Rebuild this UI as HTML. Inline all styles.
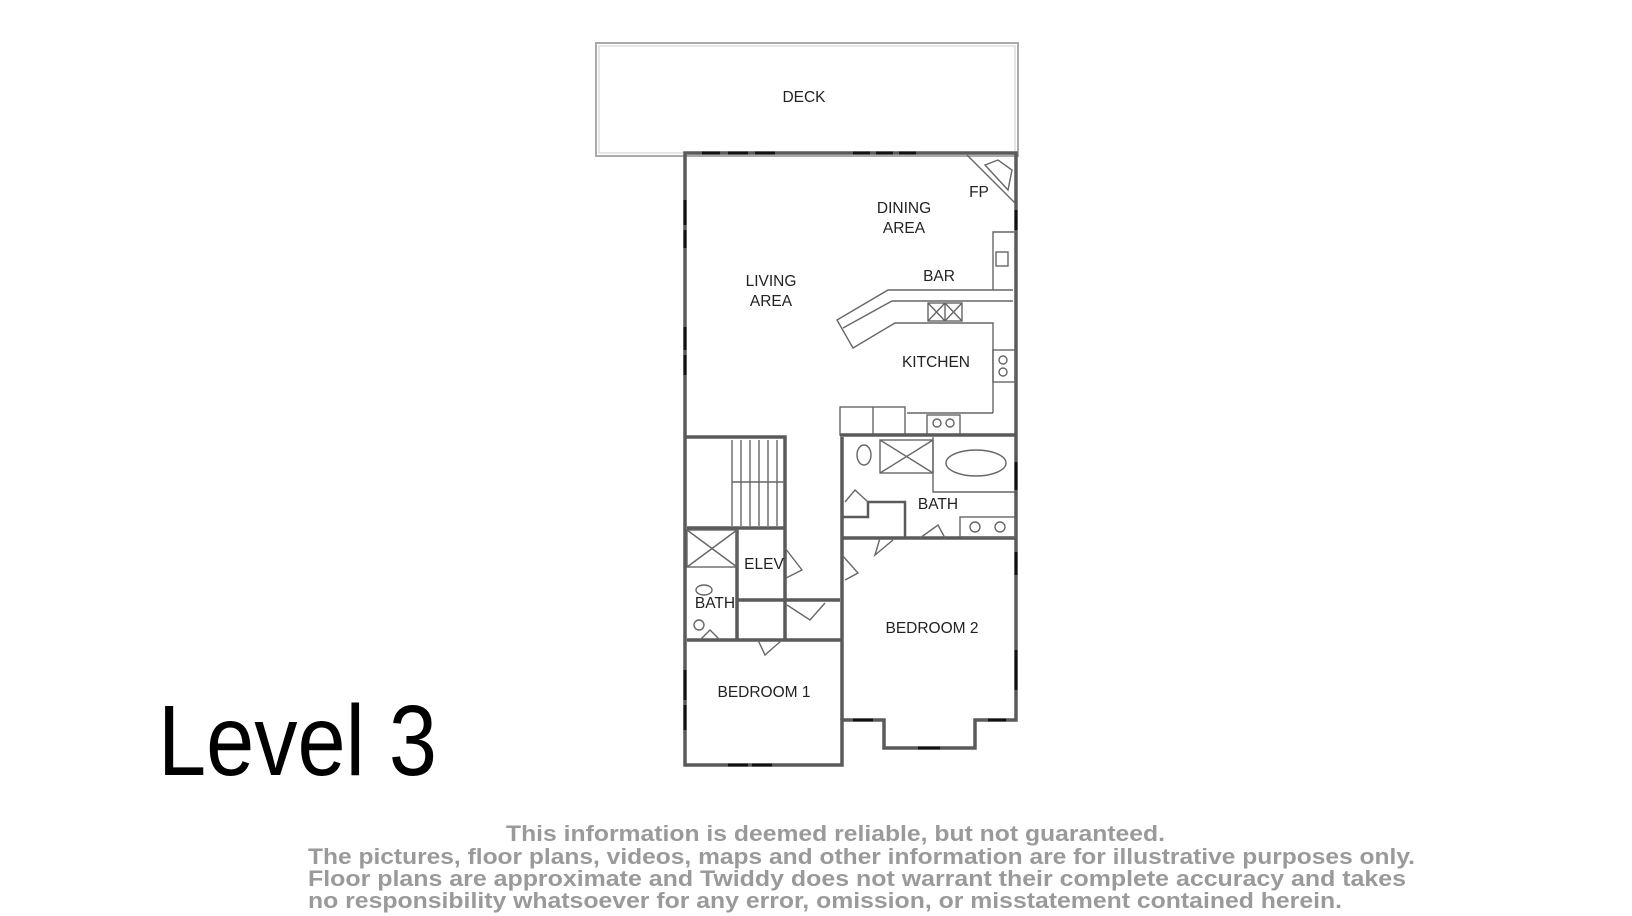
<!DOCTYPE html>
<html><head><meta charset="utf-8"><style>
html,body{margin:0;padding:0;background:#fff;}
svg{display:block;}
.w{stroke:#5a5a5a;stroke-width:3.5;fill:none;}
.t{stroke:#666;stroke-width:1.4;fill:none;}
.lb{font-family:"Liberation Sans",sans-serif;font-size:15.5px;fill:#222;text-anchor:middle;}
.d{font-family:"Liberation Sans",sans-serif;font-weight:bold;font-size:22px;fill:#9a9a9a;}
</style></head><body>
<svg width="1632" height="916" viewBox="0 0 1632 916" xmlns="http://www.w3.org/2000/svg">
<!-- Deck -->
<rect x="596" y="43" width="422" height="113" fill="none" stroke="#aaa" stroke-width="2"/>
<rect x="599" y="46" width="416" height="107" fill="none" stroke="#ccc" stroke-width="1"/>
<text class="lb" x="804" y="102">DECK</text>
<!-- outer walls -->
<path class="w" d="M685 153 H1016 V720 H975 V748 H884 V720 H842 V765 H685 Z"/>
<!-- window marks -->
<g stroke="#111" stroke-width="3">
<line x1="702" y1="153" x2="720" y2="153"/><line x1="728" y1="153" x2="748" y2="153"/><line x1="755" y1="153" x2="775" y2="153"/>
<line x1="853" y1="153" x2="870" y2="153"/><line x1="876" y1="153" x2="893" y2="153"/><line x1="899" y1="153" x2="916" y2="153"/>
<line x1="685" y1="200" x2="685" y2="225"/><line x1="685" y1="230" x2="685" y2="248"/>
<line x1="685" y1="327" x2="685" y2="350"/><line x1="685" y1="355" x2="685" y2="375"/>
<line x1="685" y1="670" x2="685" y2="700"/><line x1="685" y1="705" x2="685" y2="730"/>
<line x1="728" y1="765" x2="748" y2="765"/><line x1="752" y1="765" x2="772" y2="765"/>
<line x1="853" y1="720" x2="873" y2="720"/><line x1="918" y1="748" x2="940" y2="748"/><line x1="988" y1="720" x2="1006" y2="720"/>
<line x1="1016" y1="210" x2="1016" y2="230"/><line x1="1016" y1="462" x2="1016" y2="490"/><line x1="1016" y1="552" x2="1016" y2="575"/><line x1="1016" y1="650" x2="1016" y2="690"/>
</g>
<!-- FP -->
<path class="t" d="M967 155 L1015 203 M985 165 L998 160 L1012 170 L1008 190 Z"/>
<!-- right counter -->
<path class="t" d="M1014 232 H993 V290"/>
<rect class="t" x="996" y="252" width="12" height="14"/>
<!-- bar -->
<path class="t" d="M1013 290 H888 L837 320 L853 348 L895 323 H993 V413 M1013 301 H892 L843 328"/>
<rect class="t" x="928" y="303" width="34" height="18" stroke-width="2"/>
<path class="t" d="M945 303 V321 M928 303 L945 321 M945 303 L928 321 M945 303 L962 321 M962 303 L945 321"/>
<rect class="t" x="993" y="350" width="22" height="32"/>
<circle class="t" cx="1003" cy="360" r="4"/><circle class="t" cx="1003" cy="372" r="4"/>
<!-- bottom counter -->
<path class="t" d="M907 413 H993"/>
<rect class="t" x="840" y="407" width="65" height="28"/><line class="t" x1="873" y1="407" x2="873" y2="435"/>
<rect class="t" x="927" y="415" width="33" height="20"/>
<circle class="t" cx="937" cy="423" r="4"/><circle class="t" cx="950" cy="423" r="4"/>
<!-- interior walls -->
<path class="w" d="M685 437 H785 V640 M840 435 H1016 M842 437 V720 M687 528 H785 M737 528 V640 M737 600 H840 M687 640 H842 M842 538 H1016"/>
<!-- stairs -->
<g class="t"><line x1="732" y1="440" x2="732" y2="526"/><line x1="741" y1="440" x2="741" y2="526"/><line x1="750" y1="440" x2="750" y2="526"/><line x1="759" y1="440" x2="759" y2="526"/><line x1="768" y1="440" x2="768" y2="526"/><line x1="777" y1="440" x2="777" y2="526"/><line x1="732" y1="482" x2="785" y2="482"/></g>
<!-- small bath shower -->
<rect class="t" x="687" y="530" width="50" height="37"/><path class="t" d="M687 530 L737 567 M737 530 L687 567"/>
<ellipse class="t" cx="704" cy="590" rx="8" ry="5"/><circle class="t" cx="699" cy="625" r="5"/>
<!-- doors -->
<path class="t" d="M785 548 L802 570 L786 578 M842 555 L858 573 L845 580 M787 605 L810 620 L825 603 M720 640 L710 630 L700 640 M758 640 L765 655 L782 640 M880 538 L875 555 L893 540 M920 538 L938 525 L945 538"/>
<!-- master bath -->
<rect class="t" x="880" y="440" width="53" height="33"/><path class="t" d="M880 440 L933 473 M933 440 L880 473"/>
<path class="t" d="M933 437 V492 H1015"/><ellipse class="t" cx="976" cy="463" rx="30" ry="13"/>
<rect class="t" x="960" y="517" width="55" height="20"/>
<circle class="t" cx="975" cy="527" r="5"/><circle class="t" cx="1000" cy="527" r="5"/>
<ellipse class="t" cx="864" cy="455" rx="7" ry="10"/>
<path class="w" d="M842 517 H868 V502 H905 V538" style="stroke-width:2.5"/>
<path class="t" d="M845 502 L855 490 L868 502"/>
<!-- labels -->
<text class="lb" x="904" y="213">DINING</text><text class="lb" x="904" y="233">AREA</text>
<text class="lb" x="979" y="197">FP</text>
<text class="lb" x="771" y="286">LIVING</text><text class="lb" x="771" y="306">AREA</text>
<text class="lb" x="939" y="281">BAR</text>
<text class="lb" x="936" y="367">KITCHEN</text>
<text class="lb" x="938" y="509">BATH</text>
<text class="lb" x="764" y="569">ELEV</text>
<text class="lb" x="715" y="608">BATH</text>
<text class="lb" x="932" y="633">BEDROOM 2</text>
<text class="lb" x="764" y="697">BEDROOM 1</text>
<!-- Level 3 -->
<text x="158" y="775" font-family="Liberation Sans, sans-serif" font-size="100" fill="#000" textLength="279" lengthAdjust="spacingAndGlyphs">Level 3</text>
<!-- disclaimer -->
<text class="d" x="506" y="841" textLength="659" lengthAdjust="spacingAndGlyphs">This information is deemed reliable, but not guaranteed.</text>
<text class="d" x="308" y="864" textLength="1107" lengthAdjust="spacingAndGlyphs">The pictures, floor plans, videos, maps and other information are for illustrative purposes only.</text>
<text class="d" x="308" y="886" textLength="1098" lengthAdjust="spacingAndGlyphs">Floor plans are approximate and Twiddy does not warrant their complete accuracy and takes</text>
<text class="d" x="308" y="908" textLength="1034" lengthAdjust="spacingAndGlyphs">no responsibility whatsoever for any error, omission, or misstatement contained herein.</text>
</svg>
</body></html>
